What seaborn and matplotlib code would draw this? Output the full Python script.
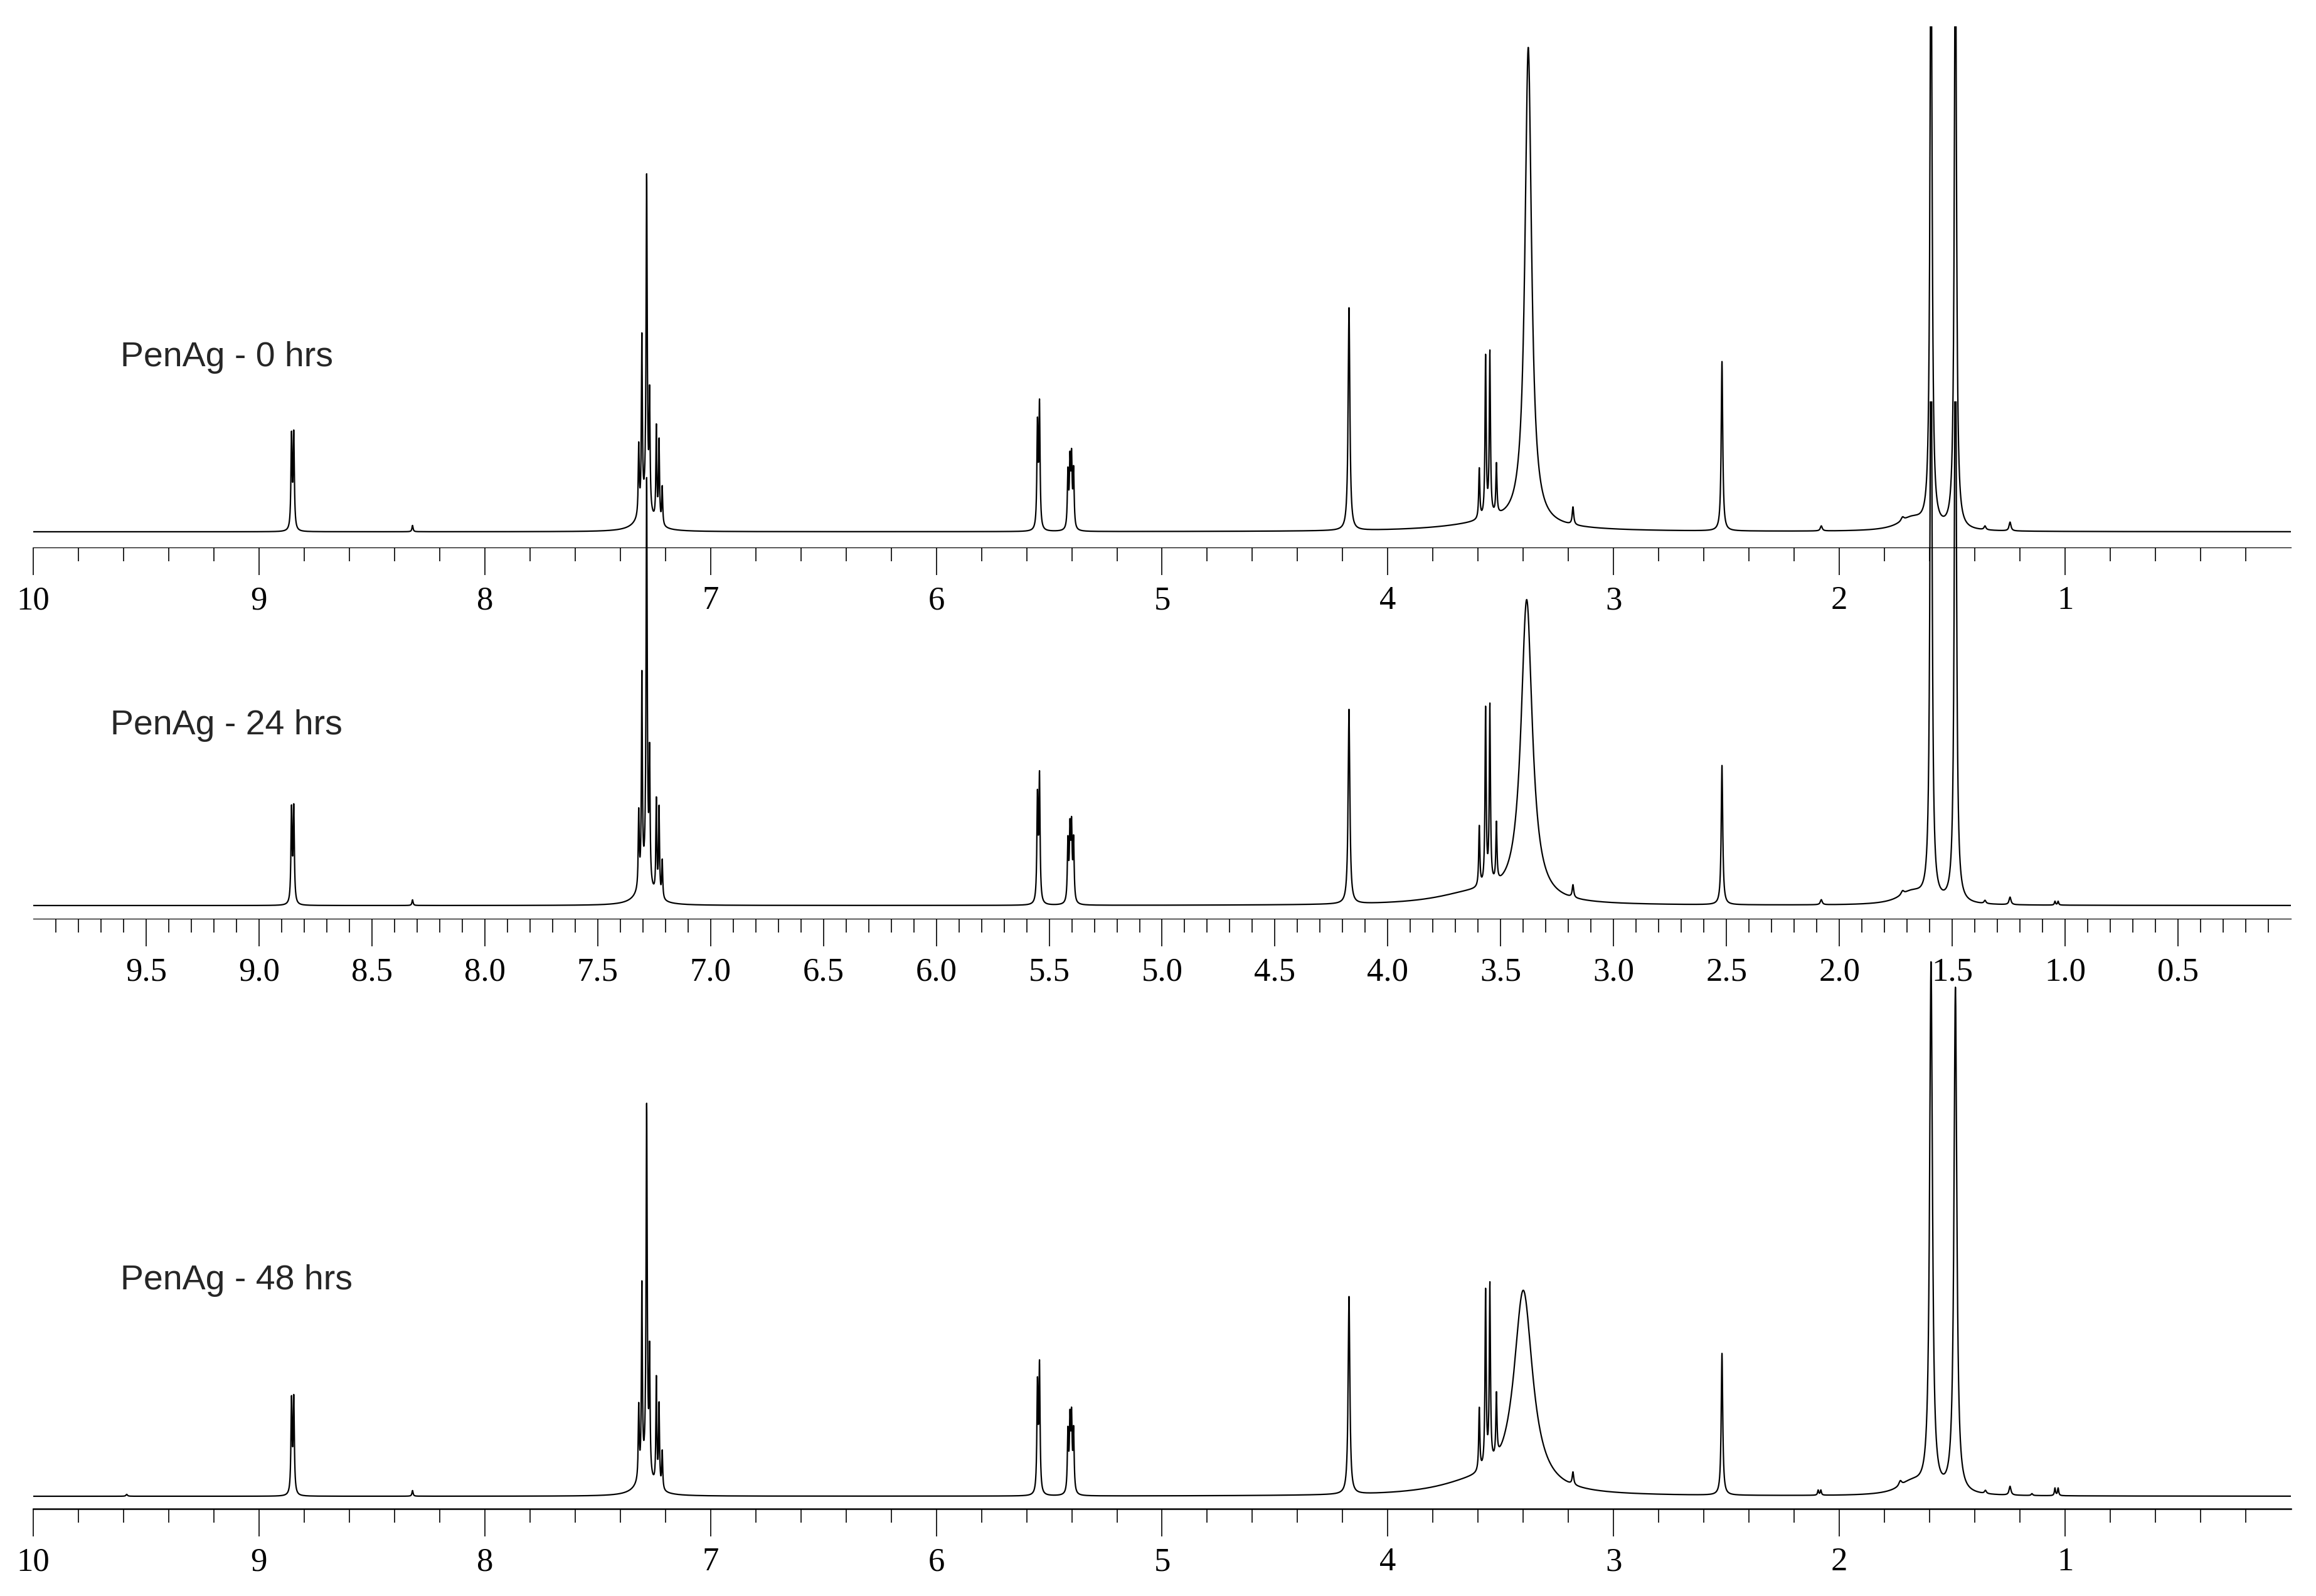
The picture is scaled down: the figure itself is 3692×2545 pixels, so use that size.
import numpy as np
import pandas as pd
import matplotlib
matplotlib.use("Agg")
import matplotlib.pyplot as plt
import seaborn as sns
from matplotlib.ticker import FixedLocator, FixedFormatter

# peak lists: shift (ppm), height (a.u.), line width (ppm)
shift_0 = [8.856, 8.846, 8.32, 7.318, 7.304, 7.283, 7.270, 7.240, 7.228, 7.214, 7.29,
           5.552, 5.543, 5.417, 5.408, 5.401, 5.392, 4.172, 3.595, 3.567, 3.548, 3.519,
           3.378, 3.50, 3.18, 2.52, 2.08, 1.72, 1.68, 1.594, 1.486, 1.355, 1.244]
height_0 = [148, 150, 10, 110, 275, 530, 180, 150, 130, 60, 30,
            163, 195, 88, 100, 105, 90, 355, 80, 255, 260, 80,
            760, 15, 28, 270, 8, 6, 20, 1000, 1000, 6, 14]
width_0 = [0.006, 0.006, 0.006, 0.005, 0.005, 0.006, 0.005, 0.005, 0.005, 0.005, 0.08,
           0.006, 0.006, 0.006, 0.006, 0.006, 0.006, 0.009, 0.006, 0.006, 0.006, 0.006,
           0.035, 0.5, 0.008, 0.008, 0.01, 0.015, 0.14, 0.011, 0.011, 0.01, 0.01]

shift_24 = [8.856, 8.846, 8.32, 7.318, 7.304, 7.283, 7.270, 7.240, 7.228, 7.214, 7.29,
            5.552, 5.543, 5.417, 5.408, 5.401, 5.392, 4.172, 3.595, 3.567, 3.548, 3.519,
            3.385, 3.62, 3.18, 2.52, 2.08, 1.72, 1.68, 1.594, 1.486, 1.355, 1.244,
            1.045, 1.031]
height_24 = [148, 150, 9, 120, 330, 640, 200, 150, 140, 60, 30,
             165, 198, 95, 108, 112, 96, 310, 96, 280, 283, 93,
             480, 18, 20, 222, 8, 6, 20, 1000, 1000, 5, 12,
             6, 6]
width_24 = [0.006, 0.006, 0.006, 0.005, 0.005, 0.006, 0.005, 0.005, 0.005, 0.005, 0.08,
            0.006, 0.006, 0.006, 0.006, 0.006, 0.006, 0.009, 0.006, 0.006, 0.006, 0.006,
            0.06, 0.4, 0.008, 0.008, 0.01, 0.015, 0.14, 0.011, 0.011, 0.01, 0.01,
            0.006, 0.006]

shift_48 = [9.586, 8.856, 8.846, 8.32, 7.318, 7.304, 7.283, 7.270, 7.240, 7.228, 7.214, 7.29,
            5.552, 5.543, 5.417, 5.408, 5.401, 5.392, 4.172, 3.595, 3.567, 3.548, 3.519,
            3.40, 3.62, 3.18, 2.52, 2.094, 2.082, 1.73, 1.68, 1.594, 1.486, 1.353, 1.244,
            1.147, 1.045, 1.031]
height_48 = [3, 148, 150, 9, 115, 300, 585, 190, 170, 130, 60, 30,
             170, 200, 95, 108, 112, 96, 315, 100, 280, 285, 100,
             320, 18, 20, 226, 8, 8, 8, 20, 840, 805, 5, 14,
             3, 12, 12]
width_48 = [0.008, 0.006, 0.006, 0.006, 0.005, 0.005, 0.006, 0.005, 0.005, 0.005, 0.005, 0.08,
            0.006, 0.006, 0.006, 0.006, 0.006, 0.006, 0.009, 0.006, 0.006, 0.006, 0.006,
            0.1, 0.4, 0.008, 0.008, 0.006, 0.006, 0.015, 0.14, 0.015, 0.015, 0.01, 0.01,
            0.008, 0.006, 0.006]

labels = ["PenAg - 0 hrs", "PenAg - 24 hrs", "PenAg - 48 hrs"]

ppm = np.linspace(0, 10, 20001)


def spectrum(shifts, heights, widths):
    y = np.zeros_like(ppm)
    for s, h, w in zip(shifts, heights, widths):
        g = w / 2
        y += h * g**2 / ((ppm - s) ** 2 + g**2)
    return y


sns.set_theme(style="white")
plt.rcParams["font.family"] = ["Liberation Serif", "DejaVu Serif"]

W, H = 3692, 2545
fig = plt.figure(figsize=(W / 200, H / 200), dpi=200)

# pixel layout: (axis line y, baseline y, top y)
panels = [
    (873, 848, 42),
    (1465, 1444, 640),
    (2406, 2386, 1400),
]
label_pos = [(192, 584), (176, 1171), (192, 2056)]
data = [(shift_0, height_0, width_0), (shift_24, height_24, width_24),
        (shift_48, height_48, width_48)]
spine_w = [0.45, 0.45, 0.9]

x0, x1 = 53, 3652
for i, ((axis_y, base_y, top_y), (s, h, w)) in enumerate(zip(panels, data)):
    ax = fig.add_axes([x0 / W, 1 - axis_y / H, (x1 - x0) / W, (axis_y - top_y) / H])
    ax.patch.set_alpha(0)
    df = pd.DataFrame({"ppm": ppm, "intensity": spectrum(s, h, w)})
    sns.lineplot(data=df, x="ppm", y="intensity", ax=ax, color="black",
                 linewidth=0.8, estimator=None, sort=False)
    ax.set_xlim(10, 0)
    ax.set_ylim(-(axis_y - base_y), base_y - top_y)
    for side in ["top", "left", "right"]:
        ax.spines[side].set_visible(False)
    ax.spines["bottom"].set_linewidth(spine_w[i])
    ax.spines["bottom"].set_color("black")
    ax.set_yticks([])
    ax.set_xlabel("")
    ax.set_ylabel("")
    if i == 1:
        major = [round(v * 0.5, 1) for v in range(19, 0, -1)]
        minor = [round(v * 0.1, 1) for v in range(99, 0, -1) if v % 5 != 0]
        ax.xaxis.set_major_locator(FixedLocator(major))
        ax.xaxis.set_major_formatter(FixedFormatter([f"{v:.1f}" for v in major]))
    else:
        major = list(range(10, 0, -1))
        minor = [round(v * 0.2, 1) for v in range(49, 0, -1) if v % 5 != 0]
        ax.xaxis.set_major_locator(FixedLocator(major))
        ax.xaxis.set_major_formatter(FixedFormatter([str(v) for v in major]))
    ax.xaxis.set_minor_locator(FixedLocator(minor))
    ax.tick_params(axis="x", which="major", direction="out", length=16, width=0.6,
                   pad=6, labelsize=19, colors="black", bottom=True)
    ax.tick_params(axis="x", which="minor", direction="out", length=8, width=0.6,
                   colors="black", bottom=True)
    lx, ly = label_pos[i]
    fig.text(lx / W, 1 - ly / H, labels[i], fontsize=20, va="baseline",
             family=["Liberation Sans", "DejaVu Sans"])

fig.savefig("out.png", dpi=200, facecolor="white")
